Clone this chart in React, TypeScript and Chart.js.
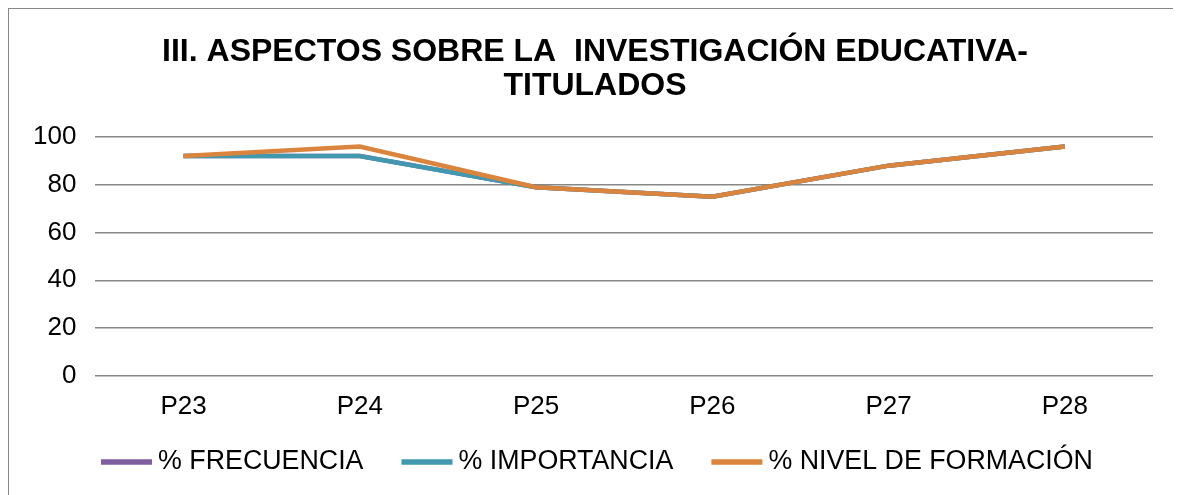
import React, { useEffect, useRef } from "react";
import { Chart, registerables } from "chart.js";

Chart.register(...registerables);

const categories = ["P23", "P24", "P25", "P26", "P27", "P28"];
const frecuencia = [92, 92, 79, 75, 88, 96];
const importancia = [92, 92, 79, 75, 88, 96];
const nivelFormacion = [92, 96, 79, 75, 88, 96];
const yTicks = [0, 20, 40, 60, 80, 100];
const titleLines = ["III. ASPECTOS SOBRE LA  INVESTIGACIÓN EDUCATIVA-", "TITULADOS"];
const seriesNames = ["% FRECUENCIA", "% IMPORTANCIA", "% NIVEL DE FORMACIÓN"];

const COLORS = ["#7D5FA0", "#4198AF", "#DB843D"];
const FONT = "'Liberation Sans', Arial, sans-serif";

const customLegend = {
  id: "customLegend",
  afterDraw(chart: any) {
    const ctx = chart.ctx as CanvasRenderingContext2D;
    const lineW = 51;
    const lineGap = 6;
    const itemGap = 38;
    const textY = chart.height - 37.5;
    ctx.save();
    ctx.font = `26.8px ${FONT}`;
    const items = chart.data.datasets.map((ds: any) => {
      const tw = ctx.measureText(ds.label).width;
      return { label: ds.label, color: ds.borderColor, w: lineW + lineGap + tw };
    });
    const total = items.reduce((s: number, it: any) => s + it.w, 0) + itemGap * (items.length - 1);
    let x = chart.width / 2 + 4.5 - total / 2;
    items.forEach((it: any) => {
      ctx.fillStyle = it.color;
      ctx.fillRect(x, textY - 2.25, lineW, 5.5);
      ctx.fillStyle = "#000";
      ctx.textBaseline = "middle";
      ctx.textAlign = "left";
      ctx.fillText(it.label, x + lineW + lineGap, textY);
      x += it.w + itemGap;
    });
    ctx.restore();
  },
};

export default function App() {
  const ref = useRef<HTMLCanvasElement | null>(null);

  useEffect(() => {
    if (!ref.current) return;
    const series = [frecuencia, importancia, nivelFormacion];
    const chart = new Chart(ref.current, {
      type: "line",
      data: {
        labels: categories,
        datasets: series.map((d, i) => ({
          label: seriesNames[i],
          data: d,
          borderColor: COLORS[i],
          backgroundColor: COLORS[i],
          borderWidth: 4.5,
          pointRadius: 0,
          pointHoverRadius: 0,
          tension: 0,
          fill: false,
          order: series.length - i,
          yAxisID: "y",
        })),
      },
      options: {
        animation: false,
        responsive: true,
        maintainAspectRatio: false,
        layout: { padding: { left: 5, right: 0, top: 0, bottom: 62 } },
        plugins: {
          title: {
            display: true,
            text: titleLines,
            color: "#000",
            font: { family: FONT, size: 32, weight: "bold", lineHeight: 1.0625 },
            padding: { top: 26, bottom: 34 },
          },
          legend: { display: false },
          tooltip: { enabled: false },
        },
        scales: {
          x: {
            offset: true,
            grid: { display: false, drawTicks: false },
            border: { display: false },
            ticks: {
              color: "#000",
              font: { family: FONT, size: 26 },
              padding: 15,
              maxRotation: 0,
            },
          },
          y: {
            min: 0,
            max: 100,
            afterBuildTicks: (axis: any) => {
              axis.ticks = yTicks.map((v) => ({ value: v }));
            },
            grid: { color: "#878787", lineWidth: 1.5, drawTicks: false },
            border: { display: false },
            ticks: {
              color: "#000",
              font: { family: FONT, size: 26 },
              padding: 19,
            },
          },
          y2: {
            type: "linear",
            position: "right",
            min: 0,
            max: 100,
            grid: {
              drawOnChartArea: false,
              drawTicks: true,
              tickLength: 23,
              color: "rgba(0,0,0,0)",
            },
            border: { display: false },
            ticks: { display: false },
          },
        },
      },
      plugins: [customLegend],
    });
    return () => chart.destroy();
  }, []);

  return (
    <div
      style={{
        width: 1167,
        height: 490,
        border: "1px solid #878787",
        position: "relative",
        background: "#fff",
      }}
    >
      <canvas ref={ref} />
    </div>
  );
}
